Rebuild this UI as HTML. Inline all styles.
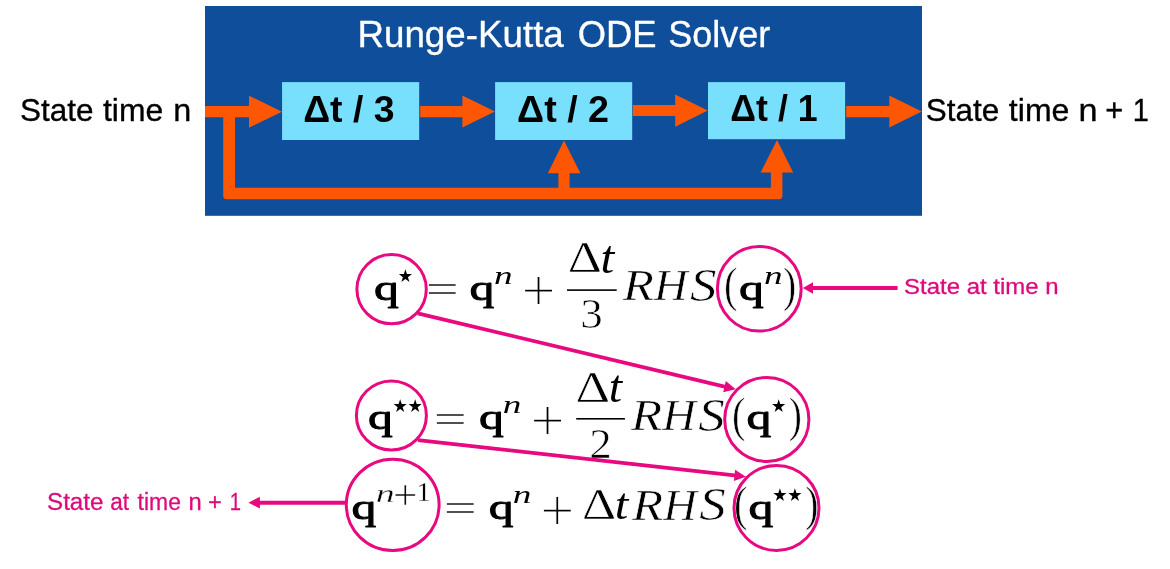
<!DOCTYPE html>
<html lang="en">
<head>
<meta charset="utf-8">
<title>Runge-Kutta ODE Solver</title>
<style>
html,body{margin:0;padding:0;background:#fff;}
body{width:1170px;height:569px;overflow:hidden;}
svg{display:block;will-change:transform;}
</style>
</head>
<body>
<svg width="1170" height="569" viewBox="0 0 1170 569">
<rect x="205" y="6" width="717.00" height="209.80" fill="#0e4e9b"/>
<rect x="282.05" y="82.1" width="137.15" height="57.90" fill="#78dffd"/>
<rect x="495.1" y="82.1" width="137.10" height="57.90" fill="#78dffd"/>
<rect x="708" y="82.1" width="137.10" height="57.10" fill="#78dffd"/>
<path d="M223.2 112 V195.70000000000002 Q223.2 199.3 226.79999999999998 199.3 H778.8 Q782.4 199.3 782.4 195.70000000000002 V170 H770.9 V187.7 H235.0 V112 Z" fill="#fe5703"/>
<path d="M564 193 V170" fill="none" stroke="#fe5703" stroke-width="11.2"/>
<polygon points="547.80,173.30 564.00,140.50 580.40,173.30" fill="#fe5703"/>
<polygon points="760.60,172.60 777.00,140.00 793.20,172.60" fill="#fe5703"/>
<polygon points="205.00,106.10 249.00,106.10 249.00,95.70 282.00,111.70 249.00,127.70 249.00,117.30 205.00,117.30" fill="#fe5703"/>
<polygon points="420.20,106.05 462.40,106.05 462.40,95.60 495.00,111.60 462.40,127.60 462.40,117.15 420.20,117.15" fill="#fe5703"/>
<polygon points="632.80,105.10 675.20,105.10 675.20,94.40 707.80,110.60 675.20,126.80 675.20,116.10 632.80,116.10" fill="#fe5703"/>
<polygon points="846.20,106.05 889.30,106.05 889.30,95.60 921.80,111.60 889.30,127.60 889.30,117.15 846.20,117.15" fill="#fe5703"/>
<text font-family="'Liberation Sans', sans-serif" font-weight="normal" font-style="normal" fill="#fff"><tspan x="357.43" y="46.62" font-size="37.75" textLength="206.38" lengthAdjust="spacingAndGlyphs" stroke="#fff" stroke-width="0.35" stroke-linejoin="round">Runge-Kutta</tspan> <tspan x="577.74" y="46.62" font-size="37.75" textLength="78.82" lengthAdjust="spacingAndGlyphs" stroke="#fff" stroke-width="0.35" stroke-linejoin="round">ODE</tspan> <tspan x="668.36" y="46.62" font-size="37.75" textLength="101.79" lengthAdjust="spacingAndGlyphs" stroke="#fff" stroke-width="0.35" stroke-linejoin="round">Solver</tspan></text>
<text font-family="'Liberation Sans', sans-serif" font-weight="normal" font-style="normal" fill="#000"><tspan x="19.96" y="120.63" font-size="31.94" textLength="73.48" lengthAdjust="spacingAndGlyphs" stroke="#000" stroke-width="0.35" stroke-linejoin="round">State</tspan> <tspan x="103.00" y="120.63" font-size="31.94" textLength="60.24" lengthAdjust="spacingAndGlyphs" stroke="#000" stroke-width="0.35" stroke-linejoin="round">time</tspan> <tspan x="173.27" y="120.63" font-size="31.94" textLength="17.99" lengthAdjust="spacingAndGlyphs" stroke="#000" stroke-width="0.35" stroke-linejoin="round">n</tspan></text>
<text font-family="'Liberation Sans', sans-serif" font-weight="normal" font-style="normal" fill="#000"><tspan x="925.76" y="120.63" font-size="31.94" textLength="73.38" lengthAdjust="spacingAndGlyphs" stroke="#000" stroke-width="0.35" stroke-linejoin="round">State</tspan> <tspan x="1008.89" y="120.63" font-size="31.94" textLength="60.55" lengthAdjust="spacingAndGlyphs" stroke="#000" stroke-width="0.35" stroke-linejoin="round">time</tspan> <tspan x="1078.45" y="120.63" font-size="31.94" textLength="19.04" lengthAdjust="spacingAndGlyphs" stroke="#000" stroke-width="0.35" stroke-linejoin="round">n</tspan> <tspan x="1105.33" y="120.63" font-size="31.94" textLength="18.00" lengthAdjust="spacingAndGlyphs" stroke="#000" stroke-width="0.35" stroke-linejoin="round">+</tspan> <tspan x="1132.80" y="120.63" font-size="31.94" textLength="16.10" lengthAdjust="spacingAndGlyphs" stroke="#000" stroke-width="0.35" stroke-linejoin="round">1</tspan></text>
<text font-family="'Liberation Sans', sans-serif" font-weight="bold" font-style="normal" fill="#000"><tspan x="303.20" y="122.30" font-size="37.57" textLength="91.46" lengthAdjust="spacingAndGlyphs">Δt / 3</tspan></text>
<text font-family="'Liberation Sans', sans-serif" font-weight="bold" font-style="normal" fill="#000"><tspan x="517.09" y="122.30" font-size="37.57" textLength="91.97" lengthAdjust="spacingAndGlyphs">Δt / 2</tspan></text>
<text font-family="'Liberation Sans', sans-serif" font-weight="bold" font-style="normal" fill="#000"><tspan x="730.37" y="120.90" font-size="37.39" textLength="87.27" lengthAdjust="spacingAndGlyphs">Δt / 1</tspan></text>
<text font-family="'Liberation Serif', serif" font-weight="normal" font-style="normal" fill="#000"><tspan x="374.11" y="299.65" font-size="36.67" textLength="24.83" lengthAdjust="spacingAndGlyphs" stroke="#000" stroke-width="0.9" stroke-linejoin="round">q</tspan><tspan x="397.80" y="282.10" font-size="17.78" textLength="15.33" lengthAdjust="spacingAndGlyphs" font-family="'DejaVu Sans', sans-serif">★</tspan><tspan x="425.66" y="301.51" font-size="37.60" textLength="33.11" lengthAdjust="spacingAndGlyphs" stroke="#fff" stroke-width="0.4">=</tspan><tspan x="469.61" y="299.65" font-size="36.67" textLength="24.83" lengthAdjust="spacingAndGlyphs" stroke="#000" stroke-width="0.9" stroke-linejoin="round">q</tspan><tspan x="494.10" y="283.72" font-size="24.73" textLength="18.59" lengthAdjust="spacingAndGlyphs" font-style="italic">n</tspan><tspan x="521.48" y="310.10" font-size="60.00" textLength="34.08" lengthAdjust="spacingAndGlyphs" stroke="#fff" stroke-width="1.2">+</tspan><tspan x="567.78" y="271.80" font-size="44.73" textLength="34.15" lengthAdjust="spacingAndGlyphs" stroke="#fff" stroke-width="0.6">Δ</tspan><tspan x="600.49" y="272.54" font-size="45.61" textLength="13.67" lengthAdjust="spacingAndGlyphs" font-style="italic">t</tspan><tspan x="580.34" y="328.38" font-size="42.09" textLength="22.56" lengthAdjust="spacingAndGlyphs" stroke="#fff" stroke-width="0.6">3</tspan><tspan x="622.86" y="300.40" font-size="44.92" textLength="31.15" lengthAdjust="spacingAndGlyphs" font-style="italic" stroke="#fff" stroke-width="0.6">R</tspan><tspan x="654.07" y="300.40" font-size="44.58" textLength="33.64" lengthAdjust="spacingAndGlyphs" font-style="italic" stroke="#fff" stroke-width="0.6">H</tspan><tspan x="690.07" y="300.93" font-size="46.57" textLength="26.53" lengthAdjust="spacingAndGlyphs" font-style="italic" stroke="#fff" stroke-width="0.6">S</tspan><tspan x="723.88" y="301.07" font-size="48.22" textLength="13.45" lengthAdjust="spacingAndGlyphs" stroke="#fff" stroke-width="0.6">(</tspan><tspan x="738.91" y="299.65" font-size="36.67" textLength="24.83" lengthAdjust="spacingAndGlyphs" stroke="#000" stroke-width="0.9" stroke-linejoin="round">q</tspan><tspan x="763.90" y="283.92" font-size="24.73" textLength="18.59" lengthAdjust="spacingAndGlyphs" font-style="italic">n</tspan><tspan x="783.11" y="301.07" font-size="48.22" textLength="13.19" lengthAdjust="spacingAndGlyphs" stroke="#fff" stroke-width="0.6">)</tspan></text>
<rect x="567" y="289.30" width="49.70" height="1.6" fill="#000"/>
<text font-family="'Liberation Serif', serif" font-weight="normal" font-style="normal" fill="#000"><tspan x="368.11" y="429.45" font-size="36.67" textLength="24.83" lengthAdjust="spacingAndGlyphs" stroke="#000" stroke-width="0.9" stroke-linejoin="round">q</tspan><tspan x="392.50" y="412.20" font-size="17.78" textLength="15.33" lengthAdjust="spacingAndGlyphs" font-family="'DejaVu Sans', sans-serif">★</tspan><tspan x="407.40" y="412.20" font-size="17.78" textLength="15.33" lengthAdjust="spacingAndGlyphs" font-family="'DejaVu Sans', sans-serif">★</tspan><tspan x="433.86" y="432.21" font-size="37.60" textLength="33.11" lengthAdjust="spacingAndGlyphs" stroke="#fff" stroke-width="0.4">=</tspan><tspan x="478.91" y="429.45" font-size="36.67" textLength="24.83" lengthAdjust="spacingAndGlyphs" stroke="#000" stroke-width="0.9" stroke-linejoin="round">q</tspan><tspan x="502.70" y="413.02" font-size="24.73" textLength="18.59" lengthAdjust="spacingAndGlyphs" font-style="italic">n</tspan><tspan x="530.48" y="439.80" font-size="60.00" textLength="34.08" lengthAdjust="spacingAndGlyphs" stroke="#fff" stroke-width="1.2">+</tspan><tspan x="575.55" y="401.70" font-size="45.19" textLength="34.60" lengthAdjust="spacingAndGlyphs" stroke="#fff" stroke-width="0.6">Δ</tspan><tspan x="608.84" y="401.94" font-size="45.79" textLength="13.34" lengthAdjust="spacingAndGlyphs" font-style="italic">t</tspan><tspan x="589.28" y="457.60" font-size="42.27" textLength="22.50" lengthAdjust="spacingAndGlyphs" stroke="#fff" stroke-width="0.6">2</tspan><tspan x="630.96" y="430.20" font-size="44.92" textLength="31.15" lengthAdjust="spacingAndGlyphs" font-style="italic" stroke="#fff" stroke-width="0.6">R</tspan><tspan x="662.17" y="430.20" font-size="44.58" textLength="33.64" lengthAdjust="spacingAndGlyphs" font-style="italic" stroke="#fff" stroke-width="0.6">H</tspan><tspan x="698.17" y="430.73" font-size="46.57" textLength="26.53" lengthAdjust="spacingAndGlyphs" font-style="italic" stroke="#fff" stroke-width="0.6">S</tspan><tspan x="732.08" y="430.87" font-size="48.22" textLength="13.45" lengthAdjust="spacingAndGlyphs" stroke="#fff" stroke-width="0.6">(</tspan><tspan x="746.41" y="429.45" font-size="36.67" textLength="24.83" lengthAdjust="spacingAndGlyphs" stroke="#000" stroke-width="0.9" stroke-linejoin="round">q</tspan><tspan x="770.90" y="412.00" font-size="17.78" textLength="15.33" lengthAdjust="spacingAndGlyphs" font-family="'DejaVu Sans', sans-serif">★</tspan><tspan x="788.71" y="430.87" font-size="48.22" textLength="13.19" lengthAdjust="spacingAndGlyphs" stroke="#fff" stroke-width="0.6">)</tspan></text>
<rect x="576.2" y="418.00" width="48.70" height="1.6" fill="#000"/>
<text font-family="'Liberation Serif', serif" font-weight="normal" font-style="normal" fill="#000"><tspan x="351.51" y="519.05" font-size="36.67" textLength="24.83" lengthAdjust="spacingAndGlyphs" stroke="#000" stroke-width="0.9" stroke-linejoin="round">q</tspan><tspan x="375.82" y="501.98" font-size="25.59" textLength="18.94" lengthAdjust="spacingAndGlyphs" font-style="italic" stroke="#fff" stroke-width="0.3">n</tspan><tspan x="392.94" y="509.12" font-size="42.17" textLength="24.38" lengthAdjust="spacingAndGlyphs" stroke="#fff" stroke-width="0.6">+</tspan><tspan x="416.48" y="501.15" font-size="26.87" textLength="14.29" lengthAdjust="spacingAndGlyphs" stroke="#fff" stroke-width="0.3">1</tspan><tspan x="443.66" y="521.41" font-size="37.60" textLength="33.11" lengthAdjust="spacingAndGlyphs" stroke="#fff" stroke-width="0.4">=</tspan><tspan x="488.71" y="519.05" font-size="36.67" textLength="24.83" lengthAdjust="spacingAndGlyphs" stroke="#000" stroke-width="0.9" stroke-linejoin="round">q</tspan><tspan x="512.70" y="502.72" font-size="24.73" textLength="18.59" lengthAdjust="spacingAndGlyphs" font-style="italic">n</tspan><tspan x="540.38" y="529.80" font-size="60.00" textLength="34.08" lengthAdjust="spacingAndGlyphs" stroke="#fff" stroke-width="1.2">+</tspan><tspan x="581.98" y="519.20" font-size="45.19" textLength="34.15" lengthAdjust="spacingAndGlyphs" stroke="#fff" stroke-width="0.6">Δ</tspan><tspan x="614.80" y="519.15" font-size="45.26" textLength="13.56" lengthAdjust="spacingAndGlyphs" font-style="italic">t</tspan><tspan x="631.96" y="519.80" font-size="44.92" textLength="31.15" lengthAdjust="spacingAndGlyphs" font-style="italic" stroke="#fff" stroke-width="0.6">R</tspan><tspan x="663.17" y="519.80" font-size="44.58" textLength="33.64" lengthAdjust="spacingAndGlyphs" font-style="italic" stroke="#fff" stroke-width="0.6">H</tspan><tspan x="699.17" y="520.33" font-size="46.57" textLength="26.53" lengthAdjust="spacingAndGlyphs" font-style="italic" stroke="#fff" stroke-width="0.6">S</tspan><tspan x="733.88" y="520.47" font-size="48.22" textLength="13.45" lengthAdjust="spacingAndGlyphs" stroke="#fff" stroke-width="0.6">(</tspan><tspan x="748.41" y="519.05" font-size="36.67" textLength="24.83" lengthAdjust="spacingAndGlyphs" stroke="#000" stroke-width="0.9" stroke-linejoin="round">q</tspan><tspan x="772.30" y="501.20" font-size="17.78" textLength="15.33" lengthAdjust="spacingAndGlyphs" font-family="'DejaVu Sans', sans-serif">★</tspan><tspan x="787.20" y="501.20" font-size="17.78" textLength="15.33" lengthAdjust="spacingAndGlyphs" font-family="'DejaVu Sans', sans-serif">★</tspan><tspan x="805.31" y="520.47" font-size="48.22" textLength="13.19" lengthAdjust="spacingAndGlyphs" stroke="#fff" stroke-width="0.6">)</tspan></text>
<text font-family="'Liberation Sans', sans-serif" font-weight="normal" font-style="normal" fill="#de0a7b"><tspan x="904.07" y="294.25" font-size="22.58" textLength="154.50" lengthAdjust="spacingAndGlyphs" stroke="#de0a7b" stroke-width="0.3" stroke-linejoin="round">State at time n</tspan></text>
<text font-family="'Liberation Sans', sans-serif" font-weight="normal" font-style="normal" fill="#de0a7b"><tspan x="47.06" y="509.85" font-size="23.01" textLength="56.37" lengthAdjust="spacingAndGlyphs" stroke="#de0a7b" stroke-width="0.3" stroke-linejoin="round">State</tspan> <tspan x="110.13" y="509.85" font-size="23.01" textLength="18.82" lengthAdjust="spacingAndGlyphs" stroke="#de0a7b" stroke-width="0.3" stroke-linejoin="round">at</tspan> <tspan x="137.61" y="509.85" font-size="23.01" textLength="43.26" lengthAdjust="spacingAndGlyphs" stroke="#de0a7b" stroke-width="0.3" stroke-linejoin="round">time</tspan> <tspan x="188.41" y="509.85" font-size="23.01" textLength="13.22" lengthAdjust="spacingAndGlyphs" stroke="#de0a7b" stroke-width="0.3" stroke-linejoin="round">n</tspan> <tspan x="208.06" y="509.85" font-size="23.01" textLength="13.85" lengthAdjust="spacingAndGlyphs" stroke="#de0a7b" stroke-width="0.3" stroke-linejoin="round">+</tspan> <tspan x="229.63" y="509.85" font-size="23.01" textLength="11.25" lengthAdjust="spacingAndGlyphs" stroke="#de0a7b" stroke-width="0.3" stroke-linejoin="round">1</tspan></text>
<ellipse cx="391.60" cy="289.15" rx="34.70" ry="34.55" fill="none" stroke="#e8087f" stroke-width="3.0"/>
<ellipse cx="759.30" cy="288.75" rx="41.90" ry="42.35" fill="none" stroke="#e8087f" stroke-width="3.0"/>
<ellipse cx="391.40" cy="415.45" rx="35.00" ry="34.55" fill="none" stroke="#e8087f" stroke-width="3.0"/>
<ellipse cx="766.80" cy="419.45" rx="42.10" ry="41.95" fill="none" stroke="#e8087f" stroke-width="3.0"/>
<ellipse cx="392.70" cy="504.85" rx="46.40" ry="45.65" fill="none" stroke="#e8087f" stroke-width="3.0"/>
<ellipse cx="776.50" cy="507.95" rx="42.50" ry="42.45" fill="none" stroke="#e8087f" stroke-width="3.0"/>
<polygon points="897.60,286.05 813.00,286.05 813.00,282.20 802.80,288.00 813.00,293.80 813.00,289.95 897.60,289.95" fill="#e8087f"/>
<polygon points="345.50,500.70 259.90,500.70 259.90,496.80 248.40,502.70 259.90,508.60 259.90,504.70 345.50,504.70" fill="#e8087f"/>
<polygon points="417.37,315.20 724.08,388.43 723.17,392.27 735.70,389.30 725.86,380.99 724.94,384.83 418.23,311.60" fill="#e8087f"/>
<polygon points="417.80,442.04 734.27,477.27 733.85,480.99 745.90,476.70 735.09,469.86 734.68,473.59 418.20,438.36" fill="#e8087f"/>
</svg>
</body>
</html>
